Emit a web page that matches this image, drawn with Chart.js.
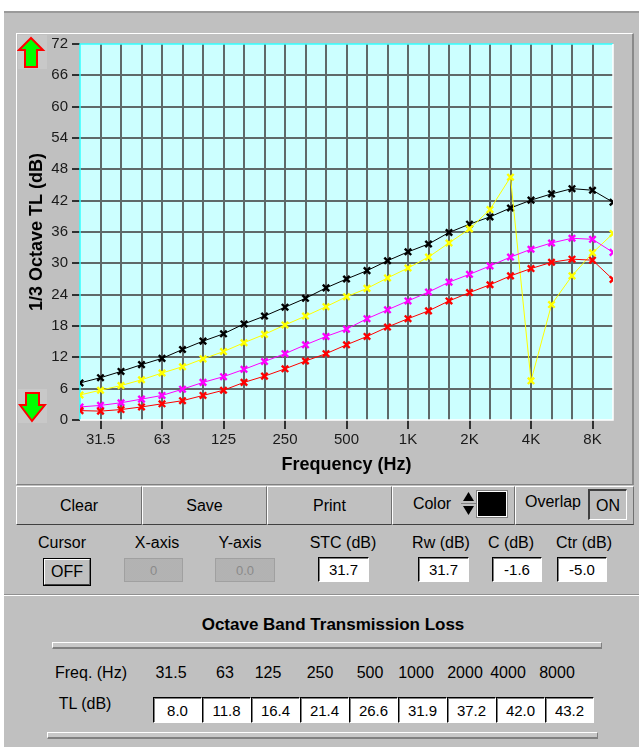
<!DOCTYPE html>
<html><head><meta charset="utf-8">
<script src="https://cdn.jsdelivr.net/npm/chart.js@4"></script>
<style>
*{box-sizing:border-box}
html,body{margin:0;padding:0;background:#fff;width:639px;height:747px;overflow:hidden;font-family:"Liberation Sans",Arial,sans-serif;color:#000}
.a{position:absolute}
#win{left:4px;top:11px;width:635px;height:736px;background:#c0c0c0;border-top:2px solid #9a9a9a}
#gpanel{left:16px;top:33px;width:618px;height:452px;border-top:1px solid #fff;border-left:1px solid #fff;border-right:2px solid #8a8a8a;border-bottom:1px solid #808080}
#chartbox{left:0;top:0;width:639px;height:486px}
.raised{background:#c0c0c0;border-top:1px solid #fff;border-left:1px solid #fff;border-right:1px solid #707070;border-bottom:1px solid #404040}
.sunk{background:#fff;border-top:1px solid #000;border-left:1px solid #000;border-bottom:1px solid #fff;border-right:1px solid #fff;box-shadow:inset 1px 1px 0 #808080}
.t{position:absolute;white-space:nowrap;transform:translate(-50%,-50%);font-size:16px;line-height:1}
.c{display:flex;align-items:center;justify-content:center;font-size:15px;line-height:1}
.dis{background:#c8c8c8;background-image:radial-gradient(#9a9a9a 0.6px,transparent 0.8px);background-size:2px 2px;border:1px solid #a0a0a0;color:#8a8a8a}
.bar{background:#c8c8c8;border-top:1px solid #fff;border-left:1px solid #fff;border-bottom:2px solid #808080;border-right:1px solid #808080}
</style>
</head>
<body>
<div id="win" class="a"></div>
<div id="gpanel" class="a"></div>
<div class="a" style="left:18px;top:35px;width:29px;height:34px;background:#c8c8c8"></div>
<div class="a" style="left:18px;top:389px;width:29px;height:34px;background:#c8c8c8"></div>
<div id="chartbox" class="a"><canvas id="c" width="639" height="486"></canvas></div>
<svg class="a" style="left:17px;top:34px" width="30" height="36"><polygon points="14,4 2,16 8,16 8,33 20,33 20,16 26,16" fill="#00ff00" stroke="#ff0000" stroke-width="2" stroke-linejoin="miter"/></svg>
<svg class="a" style="left:17px;top:389px" width="30" height="36"><polygon points="9,4 22,4 22,16 28,16 15,32 3,16 9,16" fill="#00ff00" stroke="#ff0000" stroke-width="2"/></svg>

<!-- button bar -->
<div class="a raised c" style="left:16px;top:486px;width:126px;height:39px;font-size:16px">Clear</div>
<div class="a raised c" style="left:142px;top:486px;width:125px;height:39px;font-size:16px">Save</div>
<div class="a raised c" style="left:267px;top:486px;width:125px;height:39px;font-size:16px">Print</div>
<div class="a raised" style="left:392px;top:486px;width:123px;height:39px"></div>
<div class="a raised" style="left:515px;top:486px;width:119px;height:39px"></div>
<div class="t" style="left:432px;top:504px">Color</div>
<svg class="a" style="left:461px;top:490px" width="15" height="28"><rect x="0" y="0" width="15" height="28" fill="#c0c0c0"/><polygon points="7.5,2 2,11 13,11" fill="#000"/><polygon points="2,16 13,16 7.5,25" fill="#000"/><line x1="0" y1="13.5" x2="15" y2="13.5" stroke="#808080"/></svg>
<div class="a" style="left:477px;top:491px;width:30px;height:26px;background:#000;border:1px solid #fff;outline:1px solid #808080"></div>
<div class="t" style="left:553px;top:502px">Overlap</div>
<div class="a c" style="left:588px;top:489px;width:39px;height:31px;border-top:2px solid #404040;border-left:2px solid #404040;border-bottom:1px solid #fff;border-right:1px solid #fff;font-size:16px;padding-top:2px">ON</div>

<!-- second row -->
<div class="t" style="left:62px;top:543px">Cursor</div>
<div class="a raised c" style="left:44px;top:559px;width:46px;height:26px;font-size:16px;outline:1px solid #000">OFF</div>
<div class="t" style="left:157px;top:543px">X-axis</div>
<div class="a dis c" style="left:124px;top:558px;width:59px;height:24px;font-size:13px">0</div>
<div class="t" style="left:240px;top:543px">Y-axis</div>
<div class="a dis c" style="left:215px;top:558px;width:60px;height:24px;font-size:13px">0.0</div>
<div class="t" style="left:343px;top:543px">STC (dB)</div>
<div class="a sunk c" id="stc" style="left:318px;top:557px;width:51px;height:25px"></div>
<div class="t" style="left:441px;top:543px">Rw (dB)</div>
<div class="a sunk c" id="rw" style="left:418px;top:557px;width:51px;height:25px"></div>
<div class="t" style="left:511px;top:543px">C (dB)</div>
<div class="a sunk c" id="cc" style="left:492px;top:557px;width:50px;height:25px"></div>
<div class="t" style="left:584px;top:543px">Ctr (dB)</div>
<div class="a sunk c" id="ctr" style="left:557px;top:557px;width:50px;height:25px"></div>

<!-- lower panel -->
<div class="a" style="left:4px;top:594px;width:635px;height:2px;border-top:1px solid #909090;border-bottom:1px solid #fff"></div>
<div class="t" style="left:333px;top:624px;font-weight:bold;font-size:17px">Octave Band Transmission Loss</div>
<div class="a bar" style="left:52px;top:642px;width:550px;height:7px"></div>
<div class="t" style="left:91px;top:673px">Freq. (Hz)</div>
<div class="t" style="left:85px;top:704px">TL (dB)</div>
<div id="tbl"></div>
<div class="a bar" style="left:47px;top:732px;width:551px;height:7px"></div>

<script>
// ---- data ----
const freqLabels = ['25','31.5','40','50','63','80','100','125','160','200','250','315','400','500','630','800','1K','1.25K','1.6K','2K','2.5K','3.15K','4K','5K','6.3K','8K','10K'];
const xTickLabels = ['31.5','63','125','250','500','1K','2K','4K','8K'];
const yMin = 0, yMax = 72, yStep = 6;
const tlBlack   = [7.1,8.1,9.3,10.6,11.8,13.5,15.1,16.5,18.4,19.9,21.6,23.3,25.3,27.0,28.6,30.5,32.2,33.7,35.9,37.5,38.9,40.6,42.1,43.3,44.3,44.0,41.7];
const tlYellow  = [4.8,5.7,6.6,7.7,9.0,10.2,11.7,13.1,14.8,16.4,18.2,19.9,21.7,23.6,25.2,27.2,29.1,31.2,33.9,36.6,40.3,46.5,7.5,22.1,27.6,32.0,35.7];
const tlMagenta = [2.5,2.8,3.3,4.0,4.7,5.9,7.2,8.3,9.7,11.2,12.7,14.4,16.0,17.4,19.4,21.1,22.8,24.5,26.4,27.9,29.5,31.2,32.7,33.9,34.8,34.6,32.1];
const tlRed     = [1.8,1.7,2.0,2.5,3.1,3.7,4.7,5.7,7.2,8.4,9.8,11.3,12.7,14.4,16.0,17.8,19.4,20.9,22.8,24.4,25.9,27.6,29.0,30.2,30.8,30.6,26.9];
const octFreqs = ['31.5','63','125','250','500','1000','2000','4000','8000'];
const octTL = ['8.0','11.8','16.4','21.4','26.6','31.9','37.2','42.0','43.2'];
const ratingValues = {stc:'31.7', rw:'31.7', cc:'-1.6', ctr:'-5.0'};

// ---- widgets ----
for (const k in ratingValues) document.getElementById(k).textContent = ratingValues[k];
const freqCenters = [171,225,268,320,370,416,465,508,557];
const tbl = document.getElementById('tbl');
octFreqs.forEach((f,i)=>{
  const d=document.createElement('div'); d.className='t'; d.style.left=freqCenters[i]+'px'; d.style.top='673px'; d.textContent=f; tbl.appendChild(d);
  const b=document.createElement('div'); b.className='a sunk c'; b.style.cssText='left:'+(153+49*i)+'px;top:697px;width:49px;height:26px;'; b.textContent=octTL[i]; tbl.appendChild(b);
});

// ---- chart ----
const FONT = '"Liberation Sans", Arial, sans-serif';
const GRID = '#5f6969';
const bgPlugin = {
  id:'bg',
  beforeDraw(chart){
    const {ctx, chartArea:a} = chart;
    ctx.save(); ctx.fillStyle='#ccffff'; ctx.fillRect(a.left,a.top,a.right-a.left,a.bottom-a.top); ctx.restore();
  },
  beforeDatasetsDraw(chart){
    const {ctx, chartArea:a} = chart;
    ctx.save(); ctx.lineWidth=1.5;
    ctx.strokeStyle='#33ffff';
    ctx.beginPath(); ctx.moveTo(a.left,a.bottom); ctx.lineTo(a.left,a.top); ctx.lineTo(a.right,a.top); ctx.stroke();
    ctx.strokeStyle='#ffffff';
    ctx.beginPath(); ctx.moveTo(a.right,a.top); ctx.lineTo(a.right,a.bottom); ctx.lineTo(a.left,a.bottom); ctx.stroke();
    ctx.restore();
  }
};
function ds(data,color){
  return {data, borderColor:color, backgroundColor:color, borderWidth:1, pointStyle:'crossRot', pointRadius:4.5, pointBorderWidth:2.4, pointBorderColor:color, tension:0, fill:false, clip:0};
}
new Chart(document.getElementById('c'), {
  type:'line',
  data:{labels:freqLabels, datasets:[ds(tlRed,'#ff0000'), ds(tlMagenta,'#ff00ff'), ds(tlYellow,'#ffff00'), ds(tlBlack,'#000000')]},
  plugins:[bgPlugin],
  options:{
    responsive:false, animation:false, devicePixelRatio:1,
    layout:{padding:{top:44,right:26,bottom:0,left:0}},
    plugins:{legend:{display:false}, tooltip:{enabled:false}},
    scales:{
      x:{type:'category', offset:false,
        border:{display:false},
        grid:{lineWidth:2, color:c=>(c.index===0||c.index===freqLabels.length-1)?'rgba(0,0,0,0)':GRID,
          tickColor:c=>xTickLabels.includes(freqLabels[c.index])?'#000':'rgba(0,0,0,0)', tickLength:9, tickWidth:1.5},
        ticks:{autoSkip:false, maxRotation:0, minRotation:0, padding:2, color:'#1a1a1a', font:{size:15,family:FONT},
          callback:(v,i)=>xTickLabels.includes(freqLabels[i])?freqLabels[i]:''},
        title:{display:true, text:'Frequency (Hz)', color:'#000', font:{size:18,weight:'bold',family:FONT}, padding:{top:0,bottom:10}},
        afterFit:s=>{s.height=66;}
      },
      y:{min:yMin, max:yMax,
        border:{display:false},
        grid:{lineWidth:2, color:c=>(c.tick.value===yMin||c.tick.value===yMax)?'rgba(0,0,0,0)':GRID, tickColor:'#000', tickLength:8, tickWidth:1.5},
        ticks:{stepSize:yStep, padding:4, color:'#1a1a1a', font:{size:15,family:FONT}},
        title:{display:true, text:'1/3 Octave TL (dB)', color:'#000', font:{size:18,weight:'bold',family:FONT}, padding:{top:26,bottom:0}},
        afterFit:s=>{s.width=80;}
      }
    }
  }
});
</script>
</body></html>
